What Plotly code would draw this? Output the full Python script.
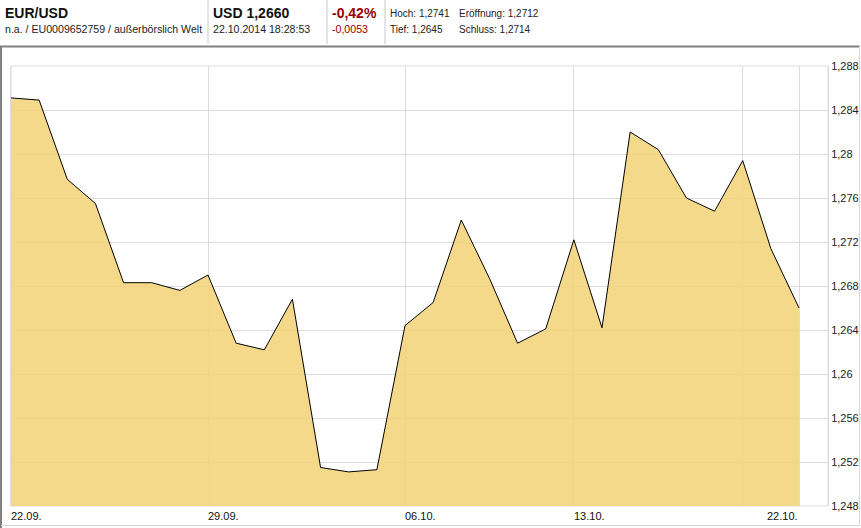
import plotly.graph_objects as go

# ---- data ----
values = [1.2851, 1.2849, 1.2777, 1.2755, 1.2683, 1.2683, 1.2676, 1.2690,
          1.2628, 1.2622, 1.2668, 1.2515, 1.2511, 1.2513, 1.2644, 1.2665,
          1.2740, 1.2687, 1.2628, 1.2641, 1.2722, 1.2642, 1.2820, 1.2804,
          1.2760, 1.2748, 1.2794, 1.2714, 1.2660]
point_index = list(range(len(values)))
x_tick_index = [0, 7, 14, 20, 26, 28]
x_tick_labels = ["22.09.", "29.09.", "06.10.", "13.10.", "", "22.10."]
y_tick_values = [1.248, 1.252, 1.256, 1.26, 1.264, 1.268, 1.272, 1.276, 1.28, 1.284, 1.288]
y_tick_labels = ["1,248", "1,252", "1,256", "1,26", "1,264", "1,268", "1,272",
                 "1,276", "1,28", "1,284", "1,288"]

W, H = 861, 528
L, R, T, B = 11, 828, 66, 506


def px(x):
    return (x - L) / (R - L)


def py(y):
    return (B - y) / (B - T)


FONT = "Liberation Sans, Arial, sans-serif"

fig = go.Figure()
fig.add_trace(go.Scatter(
    x=point_index, y=values, mode="lines", fill="tozeroy",
    line=dict(color="black", width=1),
    fillcolor="rgba(243,212,122,0.88)",
    hoverinfo="skip", showlegend=False,
))

annotations = []
# x tick labels
for i, (idx, lab) in enumerate(zip(x_tick_index, x_tick_labels)):
    if not lab:
        continue
    last = i == len(x_tick_index) - 1
    annotations.append(dict(
        x=idx, xref="x", y=py(516), yref="paper", text=lab, showarrow=False,
        xanchor="right" if last else "left", yanchor="middle",
        xshift=1 if last else -2,
        font=dict(family=FONT, size=11, color="#111111"),
    ))

# header
header = [
    ("<b>EUR/USD</b>", 3, 12.5, 14, "#111111"),
    ("n.a. / EU0009652759 / außerbörslich Welt", 3, 29.5, 10.6, "#222222"),
    ("<b>USD 1,2660</b>", 211, 12.5, 14, "#111111"),
    ("22.10.2014 18:28:53", 211, 29.5, 10.6, "#222222"),
    ("<b>-0,42%</b>", 330, 12.5, 14, "#990000"),
    ("-0,0053", 330, 29.5, 10.6, "#990000"),
    ("Hoch: 1,2741", 388, 13.5, 10, "#222222"),
    ("Eröffnung: 1,2712", 457, 13.5, 10, "#222222"),
    ("Tief: 1,2645", 388, 29.5, 10, "#222222"),
    ("Schluss: 1,2714", 457, 29.5, 10, "#222222"),
]
for text, x0, y0, size, color in header:
    annotations.append(dict(
        x=px(x0), xref="paper", y=py(y0), yref="paper", text=text,
        showarrow=False, xanchor="left", yanchor="middle",
        font=dict(family=FONT, size=size, color=color),
    ))

shapes = []
# header separators
for sx in [208, 327, 385]:
    shapes.append(dict(type="line", xref="paper", yref="paper",
                       x0=px(sx), x1=px(sx), y0=py(0), y1=py(44),
                       line=dict(color="#c8c8c8", width=1)))
# outer frame
shapes.append(dict(type="line", xref="paper", yref="paper",
                   x0=px(0), x1=px(860), y0=py(46.5), y1=py(46.5),
                   line=dict(color="#808080", width=2)))
shapes.append(dict(type="line", xref="paper", yref="paper",
                   x0=px(1), x1=px(1), y0=py(46), y1=py(528),
                   line=dict(color="#808080", width=2)))
shapes.append(dict(type="line", xref="paper", yref="paper",
                   x0=px(859.5), x1=px(859.5), y0=py(46), y1=py(526),
                   line=dict(color="#d8d8d8", width=1)))
shapes.append(dict(type="line", xref="paper", yref="paper",
                   x0=px(1), x1=px(860), y0=py(525.5), y1=py(525.5),
                   line=dict(color="#d8d8d8", width=1)))

fig.update_layout(
    width=W, height=H,
    margin=dict(l=L, r=W - R, t=T, b=H - B, autoexpand=False),
    paper_bgcolor="white", plot_bgcolor="white",
    xaxis=dict(range=[0, 29.03], tickvals=x_tick_index, showticklabels=False,
               showgrid=True, gridcolor="#dcdcdc", gridwidth=1, zeroline=False,
               showline=False, ticks="", automargin=False),
    yaxis=dict(range=[1.248, 1.288], side="right", tickvals=y_tick_values,
               ticktext=y_tick_labels, showgrid=True, gridcolor="#dcdcdc",
               gridwidth=1, zeroline=False, ticks="", ticklabelstandoff=0,
               tickfont=dict(family=FONT, size=11, color="#222222"),
               showline=True, linecolor="#dcdcdc", mirror=True, automargin=False),
    annotations=annotations,
    shapes=shapes,
    font=dict(family=FONT),
)
fig.add_shape(type="rect", xref="paper", yref="paper", x0=0, x1=1, y0=0, y1=1,
              line=dict(color="#dcdcdc", width=1), layer="below")

fig.write_html("out.html", config={"displayModeBar": False},
               post_script="document.body.style.margin='0px';")
